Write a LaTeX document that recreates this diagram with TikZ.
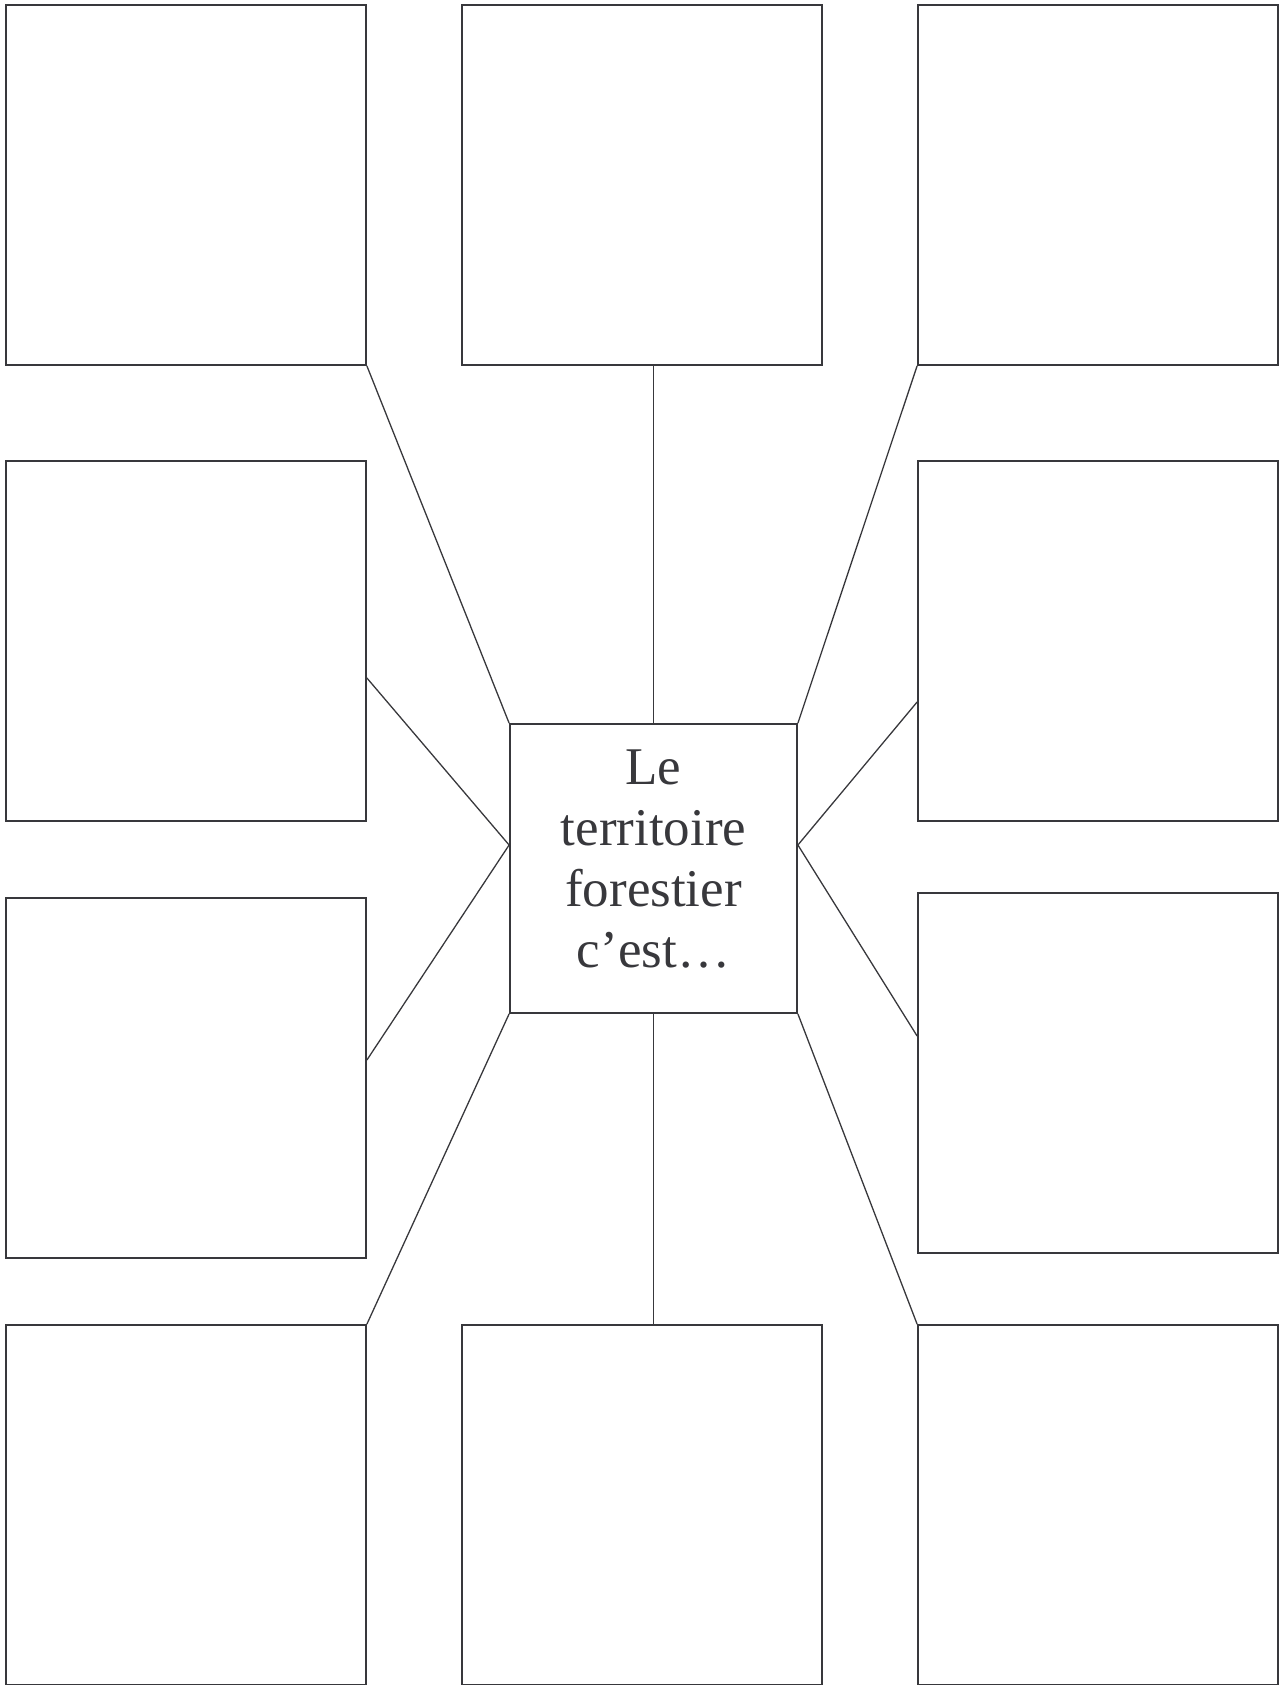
\documentclass[tikz,border=0pt]{standalone}
\usepackage{fontspec}
\setmainfont{Liberation Serif}
\definecolor{framegrey}{RGB}{56,56,60}

\begin{document}
\begin{tikzpicture}[x=1pt,y=-1pt,
  answerbox/.style={draw=framegrey,line width=1.8pt,minimum size=360pt,inner sep=0pt},
  hubbox/.style={draw=framegrey,line width=1.8pt,minimum width=287pt,minimum height=289pt,inner sep=0pt},
  hubtext/.style={align=center,text=framegrey,inner sep=0pt,font=\fontsize{53}{61}\selectfont},
  spoke/.style={draw=framegrey,line width=1.3pt}]
  \useasboundingbox (0,0) rectangle (1280,1685);
  % answer boxes
  \node[answerbox] (tl) at (186,185) {};
  \node[answerbox] (tm) at (642,185) {};
  \node[answerbox] (tr) at (1098,185) {};
  \node[answerbox] (ml) at (186,641) {};
  \node[answerbox] (mr) at (1098,641) {};
  \node[answerbox] (ll) at (186,1078) {};
  \node[answerbox] (lr) at (1098,1073) {};
  \node[answerbox] (bl) at (186,1505) {};
  \node[answerbox] (bm) at (642,1505) {};
  \node[answerbox] (br) at (1098,1505) {};
  % centre
  \node[hubbox] (hub) at (653.5,868.5) {};
  \node[hubtext] (label) at ([yshift=9pt]hub.center) {Le\\territoire\\forestier\\c’est…};
  \coordinate (hubW) at ([yshift=23.5pt]hub.west);
  \coordinate (hubE) at ([yshift=23.5pt]hub.east);
  % spokes
  \draw[spoke] (tl.south east) -- (hub.north west);
  \draw[spoke] (hub.north) -- (hub.north |- tm.south);
  \draw[spoke] (tr.south west) -- (hub.north east);
  \draw[spoke] ([yshift=-37pt]ml.east) -- (hubW);
  \draw[spoke] ([yshift=18pt]ll.east) -- (hubW);
  \draw[spoke] ([yshift=-61pt]mr.west) -- (hubE);
  \draw[spoke] ([yshift=37pt]lr.west) -- (hubE);
  \draw[spoke] (hub.south west) -- (bl.north east);
  \draw[spoke] (hub.south) -- (hub.south |- bm.north);
  \draw[spoke] (hub.south east) -- (br.north west);
\end{tikzpicture}
\end{document}
